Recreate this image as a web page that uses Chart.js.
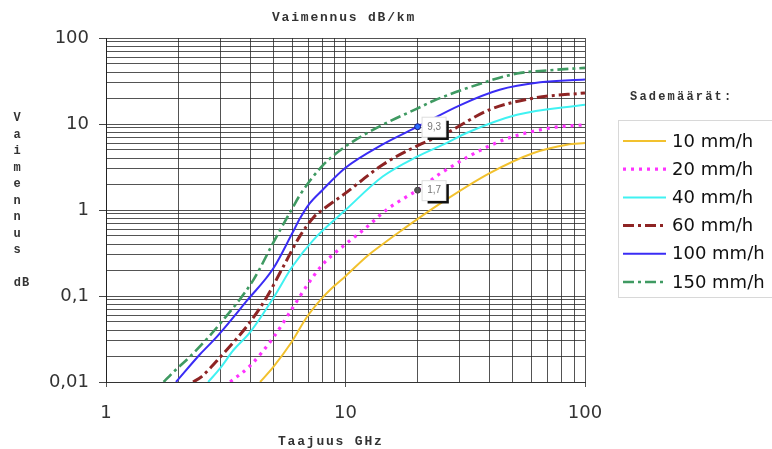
<!DOCTYPE html>
<html><head><meta charset="utf-8">
<script src="https://cdn.jsdelivr.net/npm/chart.js@4"></script>
<style>html,body{margin:0;padding:0;background:#fff}#wrap{width:772px;height:449px;position:relative}</style>
</head><body><div id="wrap"><canvas id="c" width="772" height="449"></canvas></div>
<script>
// ---- Data ----
const seriesLabels = ['10 mm/h', '20 mm/h', '40 mm/h', '60 mm/h', '100 mm/h', '150 mm/h'];

const freq10  = [4.4, 5, 5.9, 6.9, 8, 8.9, 10, 12.3, 14.8, 17, 25, 40, 61, 84, 100];
const att10   = [0.01, 0.015, 0.028, 0.057, 0.095, 0.128, 0.17, 0.29, 0.43, 0.57, 1.2, 2.68, 4.6, 5.74, 6.0];

const freq20  = [3.3, 4, 5, 6, 7, 8, 10, 12, 14.8, 18, 20, 25, 44, 71, 100];
const att20   = [0.01, 0.0155, 0.033, 0.072, 0.14, 0.23, 0.4, 0.6, 1.0, 1.43, 1.7, 2.68, 6.27, 8.97, 9.8];

const freq40  = [2.67, 3, 3.4, 4, 5, 6, 7.35, 10, 14.3, 20, 26.4, 32, 52, 100];
const att40   = [0.01, 0.0145, 0.0234, 0.038, 0.095, 0.22, 0.45, 1.0, 2.45, 4.2, 6.0, 7.85, 12.8, 16.8];

const freq60  = [2.31, 2.5, 3, 4, 4.7, 5.5, 6.46, 7.35, 8, 10, 14.3, 20, 26.4, 40, 61, 100];
const att60   = [0.01, 0.0115, 0.0195, 0.05, 0.098, 0.22, 0.5, 0.82, 1.0, 1.57, 3.36, 5.6, 7.85, 14.7, 20, 23];

const freq100 = [1.96, 2.47, 2.9, 3.9, 5, 6, 6.46, 7.1, 8, 10, 14.3, 20, 30, 44, 65, 100];
const att100  = [0.01, 0.021, 0.0335, 0.09, 0.21, 0.54, 0.8, 1.2, 1.7, 3.1, 5.8, 9.3, 16.5, 25, 30.5, 33];

const freq150 = [1.74, 1.91, 2.31, 3, 4.12, 5, 6, 6.46, 7.95, 10, 14.3, 19.8, 23.2, 32, 52, 70, 100];
const att150  = [0.01, 0.013, 0.0214, 0.048, 0.153, 0.42, 1.05, 1.5, 3.2, 5.48, 9.8, 15, 18.5, 26, 38.6, 42, 45];

// labelled points: [series index, frequency]
const labelledPoints = [[4, 20], [1, 20]];

const xTickValues = [1,2,3,4,5,6,7,8,9,10,20,30,40,50,60,70,80,90,100];
const yTickValues = [0.01,0.02,0.03,0.04,0.05,0.06,0.07,0.08,0.09,0.1,0.2,0.3,0.4,0.5,0.6,0.7,0.8,0.9,1,2,3,4,5,6,7,8,9,10,20,30,40,50,60,70,80,90,100];
const xLabelValues = [1, 10, 100];
const yLabelValues = [0.01, 0.1, 1, 10, 100];

const chartTitle = 'Vaimennus dB/km';
const xTitle = 'Taajuus GHz';
const yTitleWord = 'Vaimennus';
const yTitleUnit = 'dB';
const legendTitle = 'Sademäärät:';

// ---- Styles ----
const styles = [
  {color: '#F2C12E', width: 2,   dash: []},
  {color: '#FF33FF', width: 3.2, dash: [3, 5]},
  {color: '#40F2F2', width: 2,   dash: []},
  {color: '#8E2424', width: 3,   dash: [11, 4, 3, 4]},
  {color: '#3A2CF5', width: 2,   dash: []},
  {color: '#3F9A62', width: 2.6, dash: [11, 4, 3, 4]}
];
const freqs = [freq10, freq20, freq40, freq60, freq100, freq150];
const atts  = [att10, att20, att40, att60, att100, att150];

function isLabelled(si, f) { return labelledPoints.some(p => p[0] === si && p[1] === f); }

const datasets = seriesLabels.map((lab, i) => ({
  label: lab,
  data: freqs[i].map((f, j) => ({x: f, y: atts[i][j]})),
  showLine: true,
  borderColor: styles[i].color,
  backgroundColor: styles[i].color,
  borderWidth: styles[i].width,
  borderDash: styles[i].dash,
  cubicInterpolationMode: 'monotone',
  pointRadius: ctx => (ctx.raw && isLabelled(i, ctx.raw.x)) ? 3 : 0,
  pointBackgroundColor: i === 4 ? '#2a6bff' : '#555',
  pointBorderColor: i === 4 ? '#1a1a80' : '#444',
  pointBorderWidth: 1,
  pointHoverRadius: 0,
  order: 6 - i
}));

const fmt = v => String(v).replace('.', ',');
const isDecade = v => Math.abs(Math.log10(v) - Math.round(Math.log10(v))) < 1e-9;

const decor = {
  id: 'decor',
  afterDatasetsDraw(chart) {
    const ctx = chart.ctx;
    labelledPoints.forEach(([si, f]) => {
      const meta = chart.getDatasetMeta(si);
      const idx = freqs[si].indexOf(f);
      const el = meta.data[idx];
      if (!el) return;
      const x = el.x, y = el.y;
      const val = atts[si][idx];
      ctx.save();
      ctx.fillStyle = '#fff';
      ctx.fillRect(x + 4, y - 10, 25, 21);
      ctx.strokeStyle = '#ddd'; ctx.lineWidth = 1;
      ctx.strokeRect(x + 4.5, y - 9.5, 24, 20);
      ctx.strokeStyle = '#111'; ctx.lineWidth = 2.5;
      ctx.beginPath();
      ctx.moveTo(x + 30, y - 6); ctx.lineTo(x + 30, y + 12); ctx.lineTo(x + 10, y + 12);
      ctx.stroke();
      ctx.fillStyle = '#777';
      ctx.font = '10px "Liberation Sans", Arial';
      ctx.textAlign = 'center'; ctx.textBaseline = 'middle';
      ctx.fillText(fmt(val), x + 16.5, y + 0.5);
      ctx.restore();
    });
  },
  afterDraw(chart) {
    const ctx = chart.ctx;
    ctx.save();
    const mono = 'bold 13px "Liberation Mono", "DejaVu Sans Mono", monospace';
    ctx.fillStyle = '#333';
    ctx.textBaseline = 'middle';
    ctx.textAlign = 'left';
    ctx.font = mono;
    ctx.letterSpacing = '1.8px';
    ctx.fillText(chartTitle, 272, 18);
    ctx.fillText(xTitle, 278, 442);
    ctx.font = 'bold 12px "Liberation Mono", "DejaVu Sans Mono", monospace';
    ctx.letterSpacing = '2.2px';
    ctx.fillText(legendTitle, 630, 97);
    ctx.letterSpacing = '0px';
    ctx.font = 'bold 12px "Liberation Mono", "DejaVu Sans Mono", monospace';
    ctx.textAlign = 'center';
    for (let k = 0; k < yTitleWord.length; k++) {
      ctx.fillText(yTitleWord[k], 17, 118 + k * 16.5);
    }
    ctx.letterSpacing = '1px';
    ctx.fillText(yTitleUnit, 22, 283);
    ctx.letterSpacing = '0px';
    ctx.strokeStyle = '#d8d8d8'; ctx.lineWidth = 1;
    ctx.strokeRect(618.5, 120.5, 170, 177);
    ctx.font = '18px "DejaVu Sans", Arial';
    ctx.textAlign = 'left';
    chart.data.datasets.forEach((ds, i) => {
      const yy = 141 + i * 28.2;
      ctx.save();
      ctx.strokeStyle = ds.borderColor;
      ctx.lineWidth = ds.borderWidth;
      ctx.setLineDash(ds.borderDash || []);
      ctx.beginPath(); ctx.moveTo(623, yy); ctx.lineTo(666, yy); ctx.stroke();
      ctx.restore();
      ctx.fillStyle = '#111';
      ctx.fillText(ds.label, 672, yy + 1);
    });
    ctx.restore();
  }
};

const gridColor = 'rgba(40,40,40,0.8)';

new Chart(document.getElementById('c'), {
  type: 'scatter',
  data: {datasets},
  options: {
    responsive: false,
    animation: false,
    devicePixelRatio: 1,
    layout: {padding: {top: 38, right: 187, bottom: 0, left: 0}},
    plugins: {legend: {display: false}, tooltip: {enabled: false}, title: {display: false}},
    scales: {
      x: {
        type: 'logarithmic', min: 1, max: 100,
        afterBuildTicks: s => { s.ticks = xTickValues.map(v => ({value: v})); },
        afterFit: s => { s.height = 67; },
        ticks: {
          autoSkip: false, maxRotation: 0, padding: 16,
          color: '#333', font: {family: '"DejaVu Sans", Arial', size: 18},
          callback: v => xLabelValues.includes(v) ? fmt(v) : ''
        },
        grid: {color: gridColor, lineWidth: 1, tickLength: 5,
               tickColor: c => (c.tick && isDecade(c.tick.value)) ? '#555' : 'rgba(0,0,0,0)'},
        border: {color: '#333', width: 1}
      },
      y: {
        type: 'logarithmic', min: 0.01, max: 100,
        afterBuildTicks: s => { s.ticks = yTickValues.map(v => ({value: v})); },
        afterFit: s => { s.width = 106; },
        ticks: {
          autoSkip: false, padding: 10,
          color: '#333', font: {family: '"DejaVu Sans", Arial', size: 18},
          callback: v => yLabelValues.includes(v) ? fmt(v) : ''
        },
        grid: {color: gridColor, lineWidth: 1, tickLength: 7,
               tickColor: c => (c.tick && isDecade(c.tick.value)) ? '#444' : 'rgba(0,0,0,0)'},
        border: {color: '#222', width: 1}
      }
    }
  },
  plugins: [decor]
});
</script>
</body></html>
